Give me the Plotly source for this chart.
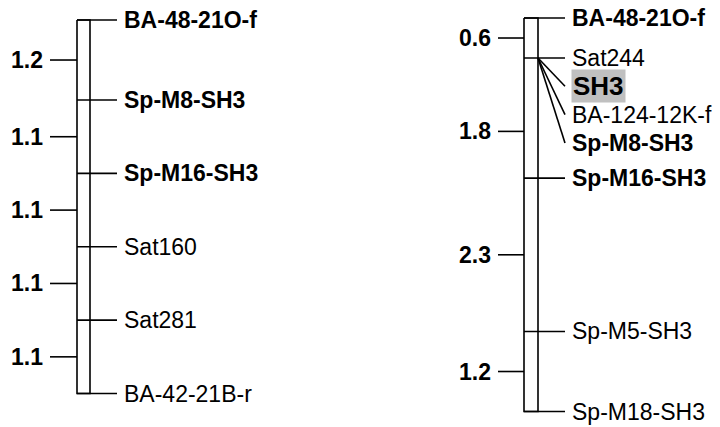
import plotly.graph_objects as go

# ---------------- data ----------------
# Left linkage group
left_markers = ["BA-48-21O-f", "Sp-M8-SH3", "Sp-M16-SH3", "Sat160", "Sat281", "BA-42-21B-r"]
left_pos = [0.0, 1.2, 2.3, 3.4, 4.5, 5.6]          # cM
left_bold = [True, True, True, False, False, False]
left_dist = ["1.2", "1.1", "1.1", "1.1", "1.1"]
left_dist_pos = [0.6, 1.75, 2.85, 3.95, 5.05]       # cM

# Right linkage group
right_markers = ["BA-48-21O-f", "Sat244", "SH3", "BA-124-12K-f", "Sp-M8-SH3",
                 "Sp-M16-SH3", "Sp-M5-SH3", "Sp-M18-SH3"]
right_pos = [0.0, 0.6, 0.6, 0.6, 0.6, 2.4, 4.7, 5.9]  # cM
right_bold = [True, False, True, False, True, True, False, False]
right_highlight = [False, False, True, False, False, False, False, False]
right_dist = ["0.6", "1.8", "2.3", "1.2"]
right_dist_pos = [0.3, 1.7, 3.55, 5.3]              # cM

# ---------------- style / layout ----------------
PAGE_OFF = 8           # default page body margin
W, H = 720 - PAGE_OFF, 427 - PAGE_OFF
SCALE = 66.7           # px per cM
FONT = "Liberation Sans, Arial, sans-serif"
FS = 23
LW = 1.6
STACK_PX = 28.3

groups = [
    dict(markers=left_markers, pos=left_pos, bold=left_bold, hl=[False] * len(left_markers),
         dist=left_dist, dist_pos=left_dist_pos, yref="y", top=20,
         x0=77, x1=90, line_end=117, text_x=123, tick_x0=50, dist_x=44),
    dict(markers=right_markers, pos=right_pos, bold=right_bold, hl=right_highlight,
         dist=right_dist, dist_pos=right_dist_pos, yref="y2", top=18,
         x0=524, x1=538, line_end=565, text_x=571, tick_x0=498, dist_x=492),
]

fig = go.Figure()
annotations = []

for gi, g in enumerate(groups):
    yaxis = g["yref"]
    total = max(g["pos"])
    # chromosome outline
    fig.add_trace(go.Scatter(
        x=[g["x0"], g["x1"], g["x1"], g["x0"], g["x0"]],
        y=[0, 0, total, total, 0],
        mode="lines", line=dict(color="black", width=LW),
        yaxis=yaxis, hoverinfo="skip", showlegend=False))
    # distance ticks + labels
    tx, ty = [], []
    for d, dp in zip(g["dist"], g["dist_pos"]):
        tx += [g["tick_x0"], g["x0"], None]
        ty += [dp, dp, None]
        annotations.append(dict(x=g["dist_x"], y=dp, xref="x", yref=yaxis,
                                text="<b>%s</b>" % d, showarrow=False,
                                xanchor="right", yanchor="middle", borderpad=0,
                                font=dict(family=FONT, size=FS, color="black")))
    fig.add_trace(go.Scatter(x=tx, y=ty, mode="lines",
                             line=dict(color="black", width=LW),
                             yaxis=yaxis, hoverinfo="skip", showlegend=False))
    # markers
    mx, my = [], []
    prev_pos, k = None, 0
    for name, p, b, hl in zip(g["markers"], g["pos"], g["bold"], g["hl"]):
        if prev_pos is not None and p == prev_pos:
            k += 1
        else:
            k = 0
        prev_pos = p
        ly = p + k * STACK_PX / SCALE
        if k == 0:
            mx += [g["x0"], g["line_end"], None]
            my += [p, p, None]
        else:
            mx += [g["x1"], g["line_end"], None]
            my += [p, ly, None]
        txt = "<b>%s</b>" % name if b else name
        ann = dict(x=g["text_x"], y=ly, xref="x", yref=yaxis, text=txt,
                   showarrow=False, xanchor="left", yanchor="middle", borderpad=0,
                   font=dict(family=FONT, size=FS, color="black"))
        if hl:
            ann["font"] = dict(family=FONT, size=26, color="black")
            ann["bgcolor"] = "#c0c0c0"
            ann["borderpad"] = 1
        annotations.append(ann)
    fig.add_trace(go.Scatter(x=mx, y=my, mode="lines",
                             line=dict(color="black", width=LW),
                             yaxis=yaxis, hoverinfo="skip", showlegend=False))


def yrange(top_px):
    # figure pixel 0 corresponds to page pixel PAGE_OFF
    ymin = -(top_px - PAGE_OFF) / SCALE
    ymax = ymin + H / SCALE
    return [ymax, ymin]


fig.update_layout(
    width=W, height=H, margin=dict(l=0, r=0, t=0, b=0),
    paper_bgcolor="white", plot_bgcolor="white",
    xaxis=dict(range=[PAGE_OFF, 720], visible=False, fixedrange=True),
    yaxis=dict(range=yrange(groups[0]["top"]), visible=False),
    yaxis2=dict(range=yrange(groups[1]["top"]), visible=False, overlaying="y"),
    annotations=annotations,
    showlegend=False,
)

fig.write_html("out.html")
